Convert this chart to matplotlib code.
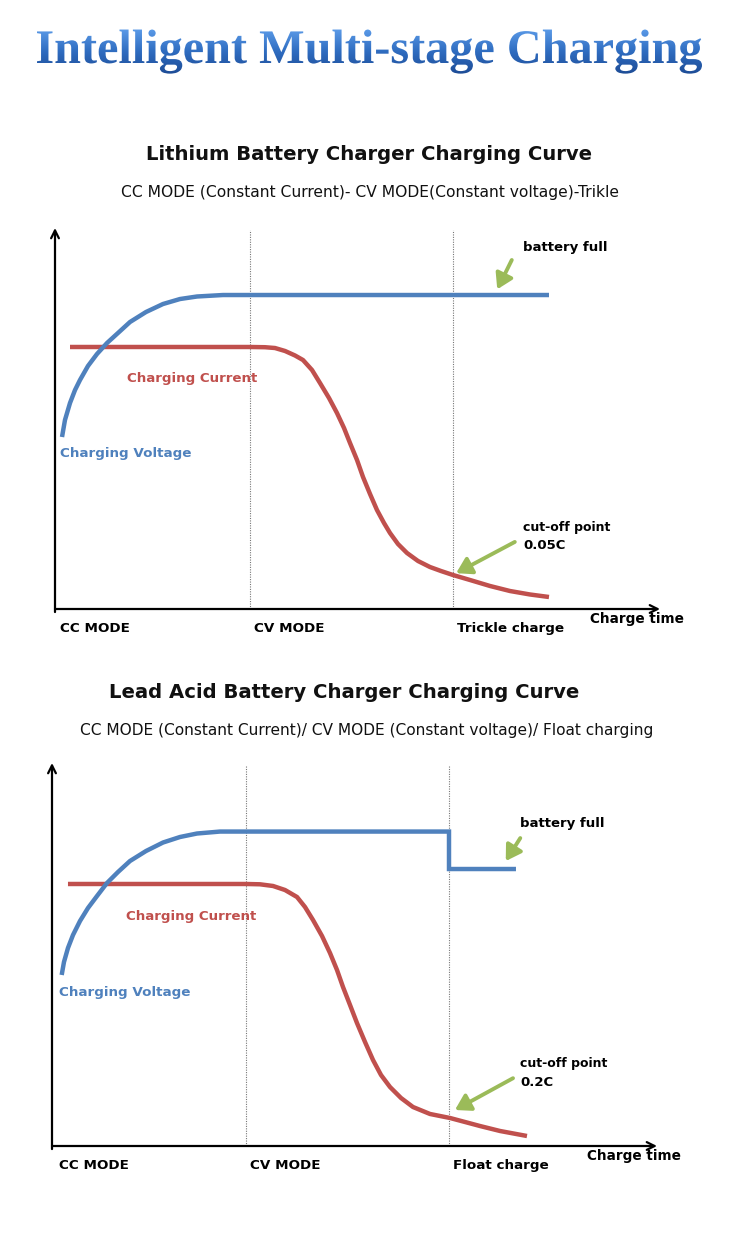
import numpy as np
import matplotlib
matplotlib.use("Agg")
import matplotlib.pyplot as plt
from matplotlib.textpath import TextPath
from matplotlib.patches import PathPatch
from matplotlib.font_manager import FontProperties
from matplotlib.colors import LinearSegmentedColormap
from matplotlib.transforms import Affine2D

# ---- data (chart units: time 0..100, level 0..100) ----
# Lithium chart
li_volt_x = [1.16, 1.65, 2.48, 3.31, 4.13, 5.45, 6.94, 8.60, 10.41, 12.40, 15.04,
             17.85, 20.66, 23.47, 27.77, 81.65]
li_volt_y = [45.14, 49.61, 54.07, 57.48, 60.10, 63.78, 66.93, 69.82, 72.44, 75.33,
             77.95, 80.05, 81.36, 82.02, 82.41, 82.41]
li_curr_x = [2.48, 32.23, 34.71, 36.36, 38.02, 39.67, 40.99, 42.48, 43.80, 45.29,
             46.61, 47.77, 48.76, 49.92, 50.91, 52.07, 53.22, 54.38, 55.37, 56.69,
             58.18, 60.00, 61.98, 63.80, 65.79, 68.60, 71.90, 75.21, 78.51, 81.65]
li_curr_y = [68.77, 68.77, 68.71, 68.50, 67.72, 66.54, 65.35, 62.73, 59.32, 55.38,
             51.44, 47.51, 43.57, 39.11, 34.65, 30.18, 25.98, 22.57, 19.95, 17.06,
             14.70, 12.60, 11.02, 9.97, 8.92, 7.61, 6.04, 4.72, 3.81, 3.15]
li_stages = [32.2, 65.8]

# Lead acid chart
la_volt_x = [1.60, 1.98, 2.64, 3.47, 4.63, 5.95, 7.44, 9.09, 10.91, 12.89, 15.54,
             18.35, 21.16, 23.97, 27.77, 65.62, 65.62, 76.69]
la_volt_y = [44.65, 48.04, 51.70, 55.09, 58.75, 62.14, 65.27, 68.67, 71.54, 74.41,
             77.02, 79.24, 80.68, 81.59, 82.10, 82.10, 72.32, 72.32]
la_curr_x = [2.64, 32.07, 34.38, 36.53, 38.51, 40.50, 41.82, 43.14, 44.63, 45.95,
             47.11, 48.10, 49.26, 50.41, 51.74, 53.06, 54.38, 55.87, 57.69, 59.67,
             62.48, 65.79, 68.26, 70.74, 74.05, 78.51]
la_curr_y = [68.41, 68.41, 68.33, 67.89, 66.84, 65.01, 62.40, 59.01, 54.83, 50.39,
             45.95, 41.51, 36.81, 32.11, 27.15, 22.45, 18.54, 15.40, 12.53, 10.18,
             8.36, 7.31, 6.27, 5.22, 3.92, 2.61]
la_stages = [32.1, 65.6]

li_modes = ["CC MODE", "CV MODE", "Trickle charge"]
la_modes = ["CC MODE", "CV MODE", "Float charge"]

BLUE = "#4f81bd"
RED = "#c0504d"
GREEN = "#9bbb59"
W, H = 750, 1248

fig = plt.figure(figsize=(7.5, 12.48), dpi=100)
fig.patch.set_facecolor("white")

# ---- gradient main title ----
ax0 = fig.add_axes([0, 0, 1, 1])
ax0.set_xlim(0, W)
ax0.set_ylim(0, H)
ax0.axis("off")
tp = TextPath((0, 0), "Intelligent Multi-stage Charging", size=100,
              prop=FontProperties(family="Liberation Serif", weight="bold"))
ext = tp.get_extents()
sc = 665 / ext.width
tr = Affine2D().translate(-ext.x0, 0).scale(sc).translate(37, H - 63)
path = tr.transform_path(tp)
patch = PathPatch(path, facecolor="none", edgecolor="none")
ax0.add_patch(patch)
pe = path.get_extents()
cmap = LinearSegmentedColormap.from_list("t", ["#1d4c96", "#2f6cc0", "#5b9be8"])
grad = np.linspace(0, 1, 256).reshape(-1, 1)
im = ax0.imshow(grad, cmap=cmap, aspect="auto", origin="lower",
                extent=[pe.x0, pe.x1, pe.y0, pe.y1])
im.set_clip_path(patch)


def fy(py):
    return 1 - py / H


def draw_chart(origin, tip_x, top_y, vx, vy, cx, cy, stages, modes, cut, full_y, arrows):
    ox, oy = origin
    ax = fig.add_axes([ox / W, fy(oy), (tip_x - ox) / W, (oy - top_y) / H])
    ax.set_xlim(0, 100)
    ax.set_ylim(0, 100)
    ax.axis("off")
    # axes arrows
    ax.annotate("", xy=(100, 0), xytext=(0, 0), annotation_clip=False,
                arrowprops=dict(arrowstyle="->", color="black", lw=1.6,
                                mutation_scale=14, shrinkA=0, shrinkB=0))
    ax.annotate("", xy=(0, 100), xytext=(0, -0.8), annotation_clip=False,
                arrowprops=dict(arrowstyle="->", color="black", lw=1.6,
                                mutation_scale=14, shrinkA=0, shrinkB=0))
    for s in stages:
        ax.plot([s, s], [0, 99.5], color="#777777", lw=0.8, ls=(0, (1, 1.2)))
    ax.plot(cx, cy, color=RED, lw=3.2, solid_capstyle="butt", solid_joinstyle="round")
    ax.plot(vx, vy, color=BLUE, lw=3.2, solid_capstyle="butt", solid_joinstyle="miter")

    ax.text(cut["cur"][0], cut["cur"][1], "Charging Current", color=RED,
            fontsize=9.6, fontweight="bold", va="center", ha="left")
    ax.text(cut["volt"][0], cut["volt"][1], "Charging Voltage", color=BLUE,
            fontsize=9.7, fontweight="bold", va="center", ha="left")
    ax.text(77.4, full_y, "battery full", fontsize=9.5, fontweight="bold",
            va="center", ha="left")
    ax.text(77.4, 21.5, "cut-off point", fontsize=9, fontweight="bold",
            va="center", ha="left")
    ax.text(77.4, 16.6, cut["c"], fontsize=9.5, fontweight="bold",
            va="center", ha="left")
    for (x1, y1, x2, y2) in arrows:
        ax.annotate("", xy=(x2, y2), xytext=(x1, y1),
                    arrowprops=dict(arrowstyle="-|>,head_length=0.9,head_width=0.55",
                                    color=GREEN, lw=2.8, shrinkA=0, shrinkB=0))
    for xm, lab in zip([cut["cc"], stages[0] + 0.7, stages[1] + 0.7], modes):
        ax.text(xm, -5.0, lab, fontsize=9.7, fontweight="bold", va="center",
                ha="left", clip_on=False)
    ax.text(88.5, -2.7, "Charge time", fontsize=9.8, fontweight="bold",
            va="center", ha="left", clip_on=False)
    return ax


draw_chart((55, 609), 660, 228, li_volt_x, li_volt_y, li_curr_x, li_curr_y,
           li_stages, li_modes,
           {"cur": (11.9, 60.4), "volt": (0.8, 40.7), "c": "0.05C", "cc": 0.8},
           94.8, [(75.5, 91.6, 73.1, 83.9), (76.0, 17.6, 66.3, 9.4)])
draw_chart((52, 1146), 657, 763, la_volt_x, la_volt_y, la_curr_x, la_curr_y,
           la_stages, la_modes,
           {"cur": (12.2, 59.8), "volt": (1.2, 40.2), "c": "0.2C", "cc": 1.2},
           84.3, [(77.4, 80.4, 75.0, 74.4), (76.2, 17.7, 66.6, 9.4)])

# ---- chart titles (sized to the width they take in the original) ----
renderer = fig.canvas.get_renderer()


def fit_text(x0, x1, py, s, weight):
    t = fig.text((x0 + x1) / 2 / W, fy(py), s, fontsize=12, fontweight=weight,
                 ha="center", va="center", family="DejaVu Sans", color="#111111")
    w = t.get_window_extent(renderer).width
    t.set_fontsize(12 * (x1 - x0) / w)
    return t


fit_text(147, 592, 155, "Lithium Battery Charger Charging Curve", "bold")
fit_text(123, 617, 193, "CC MODE (Constant Current)- CV MODE(Constant voltage)-Trikle", "normal")
fit_text(110, 578, 692, "Lead Acid Battery Charger Charging Curve", "bold")
fit_text(82, 652, 730, "CC MODE (Constant Current)/ CV MODE (Constant voltage)/ Float charging", "normal")

fig.savefig("out.png", dpi=100, facecolor="white")
